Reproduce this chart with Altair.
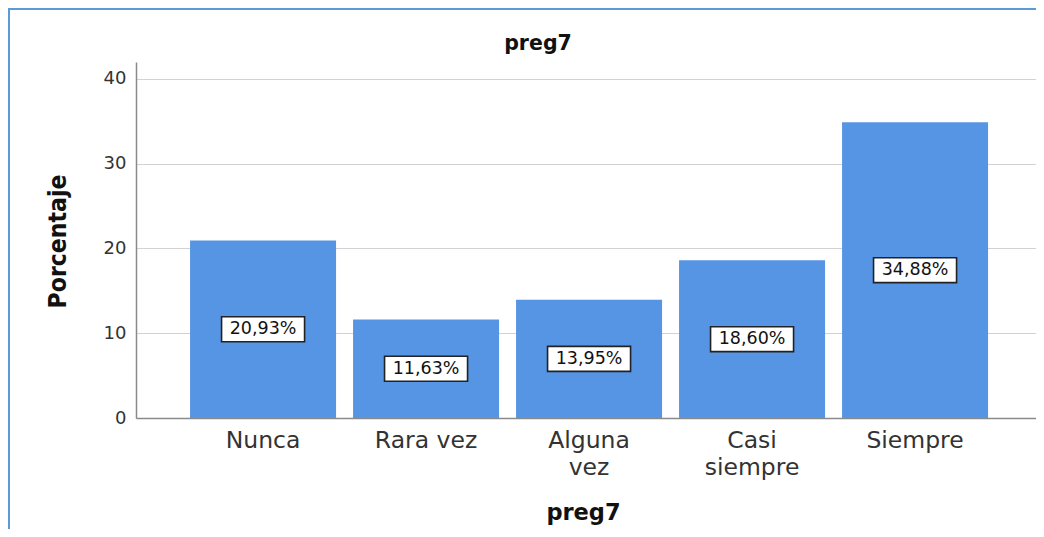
import altair as alt
import pandas as pd

categories = ["Nunca", "Rara vez", "Alguna vez", "Casi siempre", "Siempre"]
percentages = [20.93, 11.63, 13.95, 18.60, 34.88]
y_ticks = [0, 10, 20, 30, 40]
chart_title = "preg7"
x_title = "preg7"
y_title = "Porcentaje"

df = pd.DataFrame({"cat": categories, "pct": percentages})

W, H = 900, 356
FONT = "DejaVu Sans, Liberation Sans, sans-serif"
NARROW = "DejaVu Sans Condensed, Liberation Sans Narrow, sans-serif"
BAR_COLOR = "#5595E3"
BORDER = "#5B9BD5"

label_expr = ("datum.label == 'Alguna vez' ? ['Alguna', 'vez'] : "
              "(datum.label == 'Casi siempre' ? ['Casi', 'siempre'] : datum.label)")

x_scale = alt.Scale(paddingInner=0.1043, paddingOuter=0.3129, align=0.53)
y_scale = alt.Scale(domain=[0, 42], nice=False)

x_enc = alt.X(
    "cat:N", sort=categories, title=x_title, scale=x_scale,
    axis=alt.Axis(
        labelAngle=0, labelFont=FONT, labelFontSize=23.5, labelColor="#333333",
        labelPadding=10, ticks=False, tickSize=0, labelLineHeight=27,
        labelExpr=label_expr, domainColor="#8a8a8a", domainWidth=1.5, grid=False,
        titleFont=FONT, titleFontSize=22.5, titleFontWeight="bold", titleColor="#111111",
        titleX=447, titleY=101, titleBaseline="alphabetic", titleAlign="center",
    ),
)

y_axis = alt.Axis(
    values=y_ticks, grid=True, gridColor="#d2d2d2", gridWidth=1,
    ticks=False, tickSize=0, labelPadding=10, labelFont=FONT,
    labelFontSize=18, labelColor="#333333", domainColor="#8a8a8a",
    domainWidth=1.5, titleX=-71, titleY=179, titleAngle=270,
    titleBaseline="alphabetic", titleAlign="center", titleFont=NARROW,
    titleFontSize=24.5, titleFontWeight="bold", titleColor="#111111",
)

bars = alt.Chart(df).mark_bar(color=BAR_COLOR).encode(
    x=x_enc,
    y=alt.Y("pct:Q", scale=y_scale, title=y_title, axis=y_axis),
)

base_lbl = alt.Chart(df).transform_calculate(
    mid="datum.pct / 2",
    txt="replace(format(datum.pct, '.2f'), '.', ',') + '%'",
)

boxes = base_lbl.mark_point(
    shape="M -1 -0.301 L 1 -0.301 L 1 0.301 L -1 0.301 Z",
    size=6889, filled=True, fill="white", fillOpacity=1,
    stroke="#222222", strokeWidth=1.6, strokeOpacity=1, opacity=1,
).encode(
    x=alt.X("cat:N", sort=categories, title=x_title),
    y=alt.Y("mid:Q", scale=y_scale, title=y_title),
)

texts = base_lbl.mark_text(
    font=FONT, fontSize=17.5, color="#111111", baseline="middle", align="center",
).encode(
    x=alt.X("cat:N", sort=categories, title=x_title),
    y=alt.Y("mid:Q", scale=y_scale, title=y_title),
    text="txt:N",
)

one = pd.DataFrame({"k": [0]})
left_border = alt.Chart(one).mark_rule(color=BORDER, strokeWidth=2).encode(
    x=alt.value(-127), y=alt.value(-53), y2=alt.value(480)
)
top_border = alt.Chart(one).mark_rule(color=BORDER, strokeWidth=2).encode(
    x=alt.value(-128), x2=alt.value(910), y=alt.value(-53)
)
title_mark = alt.Chart(one).mark_text(
    text=chart_title, font=FONT, fontSize=20.5, fontWeight="bold", color="#111111",
    align="center", baseline="alphabetic",
).encode(x=alt.value(402), y=alt.value(-12))

chart = alt.layer(bars, boxes, texts, left_border, top_border, title_mark).properties(
    width=W, height=H,
    autosize=alt.AutoSizeParams(type="none"),
    padding={"left": 128, "top": 54, "right": 0, "bottom": 111},
    background="white",
).configure_view(stroke=None)

chart.save("out.html", embed_options={"renderer": "svg", "actions": False})
